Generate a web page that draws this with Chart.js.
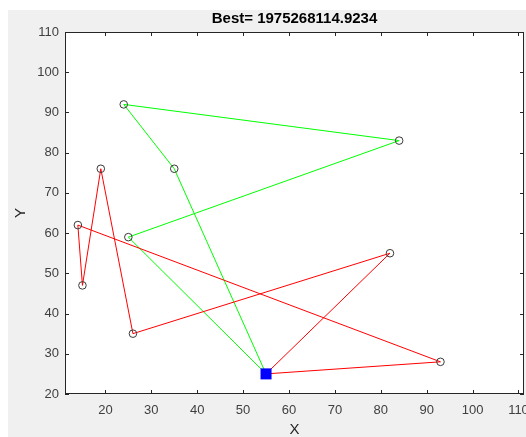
<!DOCTYPE html>
<html lang="en">
<head>
  <meta charset="UTF-8">
  <title>Best route</title>
  <style>
    html, body { margin: 0; padding: 0; background: #fff; }
    .figure { position: absolute; left: 8px; top: 10px; width: 518px; height: 427px; background: #f0f0f0; }
    .chartBox { position: absolute; left: 0; top: 0; width: 526px; height: 437px; }
  </style>
</head>
<body>
  <div class="figure"></div>
  <div class="chartBox">
    <canvas id="myChart" width="526" height="437"></canvas>
  </div>
  <script src="https://cdn.jsdelivr.net/npm/chart.js"></script>
  <script>
    const titleText = 'Best= 1975268114.9234'

    // depot and customer nodes
    const depot = { x: 55, y: 25 }
    const nodeX = [35, 24, 84, 25, 82, 26, 19, 15, 14, 93]
    const nodeY = [76, 92, 83, 59, 55, 35, 76, 47, 62, 28]

    // visiting order (indexes into nodeX / nodeY), each route starts and ends at the depot
    const greenRoute = [0, 1, 2, 3]
    const redRoute = [4, 5, 6, 7, 8, 9]

    const xTicks = [20, 30, 40, 50, 60, 70, 80, 90, 100, 110]
    const yTicks = [20, 30, 40, 50, 60, 70, 80, 90, 100, 110]

    const routePoints = (route) => {
      const pts = [depot]
      route.forEach(i => pts.push({ x: nodeX[i], y: nodeY[i] }))
      pts.push(depot)
      return pts
    }

    const nodePoints = nodeX.map((x, i) => ({ x: x, y: nodeY[i] }))

    // white plot area + MATLAB style box with inner ticks
    const plotFrame = {
      id: 'plotFrame',
      beforeDatasetsDraw(chart) {
        const { ctx, chartArea } = chart
        ctx.save()
        ctx.fillStyle = '#ffffff'
        ctx.fillRect(chartArea.left, chartArea.top, chartArea.right - chartArea.left, chartArea.bottom - chartArea.top)
        ctx.restore()
      },
      afterDraw(chart) {
        const { ctx, chartArea } = chart
        const xs = chart.scales.x
        const ys = chart.scales.y
        const len = 4
        ctx.save()
        ctx.strokeStyle = '#262626'
        ctx.lineWidth = 1
        ctx.beginPath()
        xTicks.forEach(v => {
          const px = Math.round(xs.getPixelForValue(v)) + 0.5
          ctx.moveTo(px, chartArea.bottom)
          ctx.lineTo(px, chartArea.bottom - len)
          ctx.moveTo(px, chartArea.top)
          ctx.lineTo(px, chartArea.top + len)
        })
        yTicks.forEach(v => {
          const py = Math.round(ys.getPixelForValue(v)) + 0.5
          ctx.moveTo(chartArea.left, py)
          ctx.lineTo(chartArea.left + len, py)
          ctx.moveTo(chartArea.right, py)
          ctx.lineTo(chartArea.right - len, py)
        })
        ctx.stroke()
        ctx.strokeRect(chartArea.left + 0.5, chartArea.top + 0.5, chartArea.right - chartArea.left - 1, chartArea.bottom - chartArea.top - 1)
        ctx.restore()
      }
    }

    const tickFont = { family: 'Liberation Sans, Arial, sans-serif', size: 13 }

    const config = {
      type: 'scatter',
      data: {
        datasets: [
          {
            label: 'Depot',
            data: [depot],
            pointStyle: 'rect',
            pointRadius: 7.8,
            backgroundColor: '#0000ff',
            borderColor: '#0000ff',
            borderWidth: 0
          },
          {
            label: 'Nodes',
            data: nodePoints,
            pointStyle: 'circle',
            pointRadius: 3.8,
            backgroundColor: 'rgba(0,0,0,0)',
            borderColor: '#3a3a3a',
            borderWidth: 1
          },
          {
            label: 'Route 2',
            data: routePoints(redRoute),
            showLine: true,
            borderColor: '#ff0000',
            borderWidth: 1,
            pointRadius: 0
          },
          {
            label: 'Route 1',
            data: routePoints(greenRoute),
            showLine: true,
            borderColor: '#00ff00',
            borderWidth: 1,
            pointRadius: 0
          }
        ]
      },
      options: {
        responsive: false,
        devicePixelRatio: 1,
        animation: false,
        layout: { autoPadding: false, padding: { left: 0, right: 2, top: 0, bottom: 0 } },
        plugins: {
          legend: { display: false },
          tooltip: { enabled: false },
          title: {
            display: true,
            text: titleText,
            fullSize: false,
            color: '#000',
            font: { family: 'Liberation Sans, Arial, sans-serif', size: 15, weight: 'bold', lineHeight: 1.2 },
            padding: { top: 10, bottom: 4 }
          }
        },
        scales: {
          x: {
            type: 'linear',
            min: 11.2,
            max: 111.2,
            afterBuildTicks: (scale) => { scale.ticks = xTicks.map(v => ({ value: v })) },
            afterFit: (scale) => {
              scale.height = 43
              scale.paddingLeft = 0
              scale.paddingRight = 0
            },
            grid: { display: false, drawTicks: false },
            border: { display: false },
            ticks: { color: '#404040', font: tickFont, padding: 9, maxRotation: 0 },
            title: { display: true, text: 'X', color: '#262626', font: { family: 'Liberation Sans, Arial, sans-serif', size: 15, lineHeight: 1 }, padding: { top: 0, bottom: 0 } }
          },
          y: {
            type: 'linear',
            min: 20,
            max: 110,
            afterBuildTicks: (scale) => { scale.ticks = yTicks.map(v => ({ value: v })) },
            afterFit: (scale) => {
              scale.width = 65
              scale.paddingTop = 0
              scale.paddingBottom = 0
            },
            grid: { display: false, drawTicks: false },
            border: { display: false },
            ticks: { color: '#404040', font: tickFont, padding: 6 },
            title: { display: true, text: 'Y', color: '#262626', font: { family: 'Liberation Sans, Arial, sans-serif', size: 15, lineHeight: 1 }, padding: { top: 13, bottom: 0 } }
          }
        }
      },
      plugins: [plotFrame]
    }

    const myChart = new Chart(document.getElementById('myChart'), config)
  </script>
</body>
</html>
